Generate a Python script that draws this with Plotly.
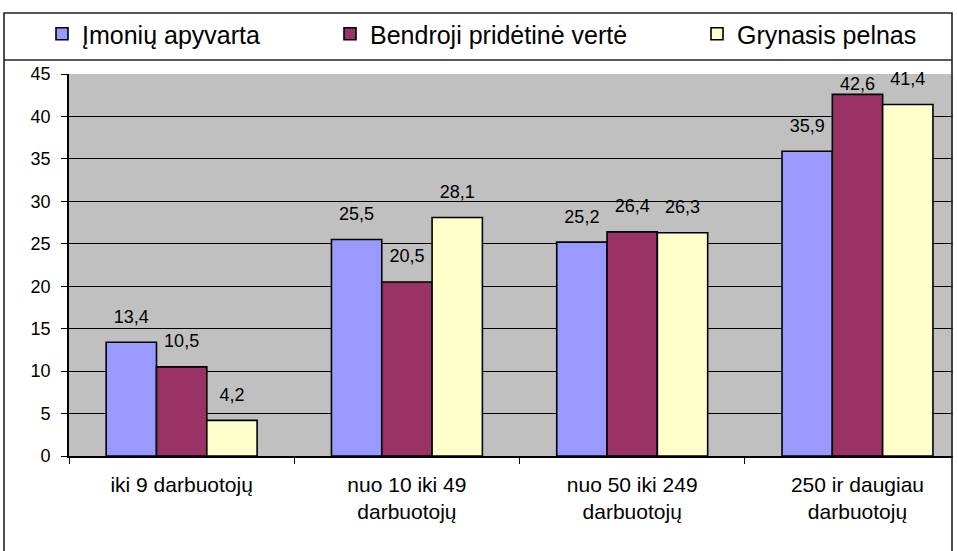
import plotly.graph_objects as go

# ---------------- data ----------------
categories = [
    "iki 9 darbuotojų",
    "nuo 10 iki 49<br>darbuotojų",
    "nuo 50 iki 249<br>darbuotojų",
    "250 ir daugiau<br>darbuotojų",
]
series_names = ["Įmonių apyvarta", "Bendroji pridėtinė vertė", "Grynasis pelnas"]
imoniu_apyvarta = [13.4, 25.5, 25.2, 35.9]
bendroji_pridetine_verte = [10.5, 20.5, 26.4, 42.6]
grynasis_pelnas = [4.2, 28.1, 26.3, 41.4]
y_tick_values = [0, 5, 10, 15, 20, 25, 30, 35, 40, 45]

# ---------------- style ----------------
colors = ["#9999FF", "#993366", "#FFFFCC"]
FONT = "Liberation Sans, Arial, sans-serif"
W, H = 958, 551
ML, MR, MT, MB = 69, 5, 74, 95
PW, PH = W - ML - MR, H - MT - MB
Y_MAX = 45
LABEL_MARKER = 22.4  # invisible marker that lifts labels above the bars


def px_x(px):
    return (px - ML) / PW


def px_y(py):
    return (H - MB - py) / PH


def fmt(v):
    return f"{v:.1f}".replace(".", ",")


series = [imoniu_apyvarta, bendroji_pridetine_verte, grynasis_pelnas]
legend_ids = ["legend", "legend2", "legend3"]

fig = go.Figure()
for name, vals, col, lg in zip(series_names, series, colors, legend_ids):
    fig.add_trace(go.Bar(
        x=categories, y=vals, name=name, legend=lg,
        marker=dict(color=col, line=dict(color="#000000", width=1.6)),
        hoverinfo="x+y+name",
    ))
for name, vals in zip(series_names, series):
    fig.add_trace(go.Scatter(
        x=categories, y=vals, mode="markers+text", orientation="v",
        text=[fmt(v) for v in vals], textposition="top center",
        textfont=dict(family=FONT, size=18, color="#000000"),
        marker=dict(color="rgba(0,0,0,0)",
                    size=[LABEL_MARKER if v + 3.5 <= Y_MAX else 0 for v in vals],
                    line=dict(width=0)),
        showlegend=False, hoverinfo="skip", cliponaxis=False,
    ))

line_col = "#000000"
shapes = [
    # outer chart border
    dict(type="rect", xref="paper", yref="paper",
         x0=px_x(4), x1=px_x(952), y0=px_y(H + 20), y1=px_y(13),
         line=dict(color="#222222", width=1.6), fillcolor="rgba(0,0,0,0)", layer="above"),
    # legend box bottom
    dict(type="line", xref="paper", yref="paper",
         x0=px_x(4), x1=px_x(952), y0=px_y(60), y1=px_y(60),
         line=dict(color="#222222", width=1.6), layer="above"),
]

legend_common = dict(orientation="h", yanchor="middle", xanchor="left",
                     font=dict(family=FONT, size=25, color="#000000"),
                     bgcolor="rgba(0,0,0,0)", borderwidth=0)
legend_x = [42, 330, 697]
legend_y = px_y(34)

fig.update_layout(
    width=W, height=H,
    margin=dict(l=ML, r=MR, t=MT, b=MB, pad=0),
    paper_bgcolor="#FFFFFF", plot_bgcolor="#C0C0C0",
    barmode="group", bargap=0.33, bargroupgap=0,
    scattermode="group", scattergap=0.33,
    font=dict(family=FONT, color="#000000"),
    shapes=shapes,
    legend=dict(x=px_x(legend_x[0]), y=legend_y, **legend_common),
    legend2=dict(x=px_x(legend_x[1]), y=legend_y, **legend_common),
    legend3=dict(x=px_x(legend_x[2]), y=legend_y, **legend_common),
    xaxis=dict(
        type="category", categoryorder="array", categoryarray=categories,
        range=[-0.5, 3.424], tickson="boundaries",
        ticks="outside", ticklen=6, tickwidth=1, tickcolor=line_col,
        showline=True, linecolor=line_col, linewidth=1.6,
        showgrid=False, zeroline=False,
        tickfont=dict(family=FONT, size=21, color="#000000"),
        ticklabelstandoff=9,
    ),
    yaxis=dict(
        range=[0, Y_MAX], tickvals=y_tick_values,
        ticktext=[str(v) for v in y_tick_values],
        ticks="outside", ticklen=6, tickwidth=1, tickcolor=line_col,
        showline=True, linecolor=line_col, linewidth=1.6,
        showgrid=True, gridcolor=line_col, gridwidth=1,
        zeroline=False,
        tickfont=dict(family=FONT, size=18, color="#000000"),
        ticklabelstandoff=7,
    ),
)

fig.write_html(
    "out.html",
    config={"displayModeBar": False},
    post_script="document.body.style.margin='0';document.body.style.overflow='hidden';",
)
